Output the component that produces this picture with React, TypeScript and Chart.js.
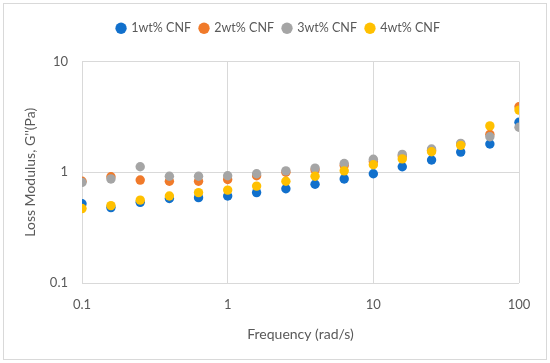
import React, { useEffect, useRef } from "react";
import { Chart, registerables } from "chart.js";

Chart.register(...registerables);

const frequencies = [0.1, 0.158, 0.251, 0.398, 0.631, 1, 1.58, 2.51, 3.98, 6.31, 10, 15.8, 25.1, 39.8, 63.1, 100];
const cnf1 = [0.52, 0.48, 0.535, 0.58, 0.59, 0.61, 0.655, 0.71, 0.78, 0.87, 0.97, 1.12, 1.29, 1.52, 1.8, 2.83];
const cnf2 = [0.83, 0.91, 0.85, 0.83, 0.83, 0.86, 0.93, 1.0, 1.05, 1.15, 1.25, 1.4, 1.58, 1.8, 2.2, 3.9];
const cnf3 = [0.81, 0.87, 1.12, 0.92, 0.92, 0.93, 0.97, 1.03, 1.09, 1.2, 1.31, 1.45, 1.62, 1.82, 2.09, 2.55];
const cnf4 = [0.47, 0.5, 0.56, 0.61, 0.655, 0.69, 0.75, 0.83, 0.92, 1.03, 1.17, 1.32, 1.53, 1.75, 2.62, 3.64];
const seriesNames = ["1wt% CNF", "2wt% CNF", "3wt% CNF", "4wt% CNF"];
const seriesColors = ["#1170CC", "#F07A2A", "#A5A5A5", "#FFC000"];
const xTicks = [0.1, 1, 10, 100];
const yTicks = [0.1, 1, 10];

const FONT = "Lato";
const TEXT = "#595959";
const GRID = "#D9D9D9";

export default function App() {
  const ref = useRef<HTMLCanvasElement | null>(null);
  useEffect(() => {
    if (!ref.current) return;
    const all = [cnf1, cnf2, cnf3, cnf4];
    const frame = {
      id: "frame",
      beforeInit(chart: any) {
        const lg = chart.legend;
        if (lg) {
          const orig = lg.fit;
          lg.fit = function () {
            orig.call(this);
            this.height += 17;
          };
        }
      },
      afterLayout(chart: any) {
        const lg = chart.legend;
        if (lg) {
          lg.left += 8;
          lg.right += 8;
        }
      },
      beforeDraw(chart: any) {
        const c = chart.ctx;
        c.save();
        c.fillStyle = "#fff";
        c.fillRect(0, 0, chart.width, chart.height);
        c.strokeStyle = "#D9D9D9";
        c.lineWidth = 1;
        c.strokeRect(3.5, 3.5, 543, 356);
        c.restore();
      },
    };
    const chart = new Chart(ref.current, {
      type: "scatter",
      data: {
        datasets: all.map((vals, i) => ({
          label: seriesNames[i],
          data: frequencies.map((f, j) => ({ x: f, y: vals[j] })),
          backgroundColor: seriesColors[i],
          borderColor: seriesColors[i],
          borderWidth: 0,
          pointRadius: 4.7,
          pointHoverRadius: 4.7,
          order: 3 - i,
        })),
      },
      options: {
        animation: false,
        responsive: false,
        devicePixelRatio: 1,
        layout: { padding: { left: 22, right: 31, top: 13, bottom: 20 } },
        plugins: {
          tooltip: { enabled: false },
          legend: {
            position: "top",
            labels: {
              usePointStyle: true,
              pointStyle: "circle",
              boxWidth: 8,
              boxHeight: 8,
              padding: 9,
              color: TEXT,
              font: { family: FONT, size: 12.5 },
              sort: (a: any, b: any) => a.datasetIndex - b.datasetIndex,
            },
          },
        },
        scales: {
          x: {
            type: "logarithmic",
            min: 0.1,
            max: 100,
            afterBuildTicks: (axis: any) => {
              axis.ticks = xTicks.map((v) => ({ value: v }));
            },
            afterFit: (axis: any) => {
              axis.height = 60;
            },
            ticks: {
              color: TEXT,
              font: { family: FONT, size: 13 },
              padding: 14,
              maxRotation: 0,
              callback: (v: any) => String(v),
            },
            grid: { color: GRID, lineWidth: 1, drawTicks: false },
            border: { display: false },
            title: {
              display: true,
              text: "Frequency (rad/s)",
              color: TEXT,
              font: { family: FONT, size: 14 },
              padding: { top: 0, bottom: 0 },
            },
          },
          y: {
            type: "logarithmic",
            min: 0.1,
            max: 10,
            afterBuildTicks: (axis: any) => {
              axis.ticks = yTicks.map((v) => ({ value: v }));
            },
            afterFit: (axis: any) => {
              axis.width = 60;
            },
            ticks: {
              color: TEXT,
              font: { family: FONT, size: 13 },
              padding: 14,
              callback: (v: any) => String(v),
            },
            grid: { color: GRID, lineWidth: 1, drawTicks: false },
            border: { display: false },
            title: {
              display: true,
              text: "Loss Modulus, G''(Pa)",
              color: TEXT,
              font: { family: FONT, size: 14 },
              padding: { top: 0, bottom: 0 },
            },
          },
        },
      },
      plugins: [frame],
    } as any);
    return () => chart.destroy();
  }, []);
  return (
    <div style={{ position: "fixed", left: 0, top: 0, width: 550, height: 363 }}>
      <canvas ref={ref} width={550} height={363} style={{ display: "block" }} />
    </div>
  );
}
